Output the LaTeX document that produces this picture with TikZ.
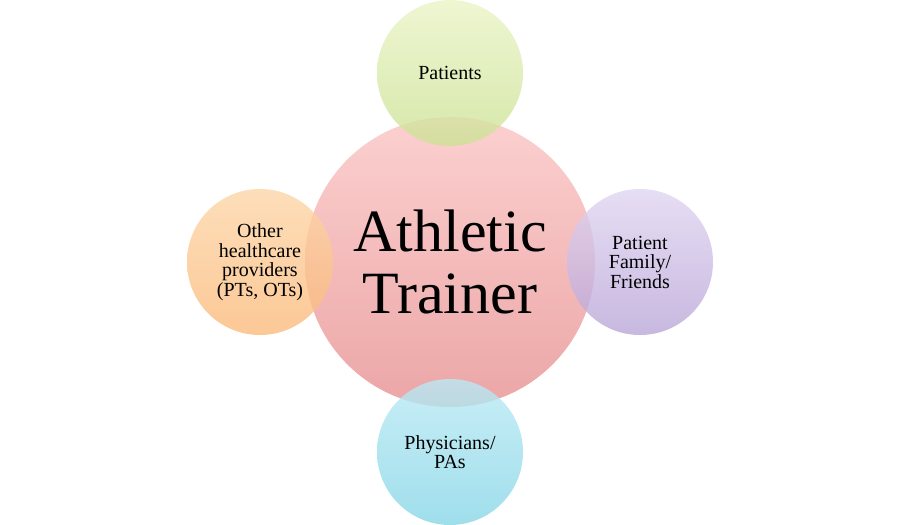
\documentclass[tikz,border=0pt]{standalone}
\usepackage{fontspec}
\setmainfont{Liberation Serif}
\definecolor{ctop}{RGB}{251,196,196}
\definecolor{cbot}{RGB}{231,144,144}
\definecolor{gtop}{RGB}{234,244,199}
\definecolor{gbot}{RGB}{204,226,149}
\definecolor{ltop}{RGB}{224,214,241}
\definecolor{lbot}{RGB}{186,166,216}
\definecolor{btop}{RGB}{186,234,244}
\definecolor{bbot}{RGB}{136,214,231}
\definecolor{ptop}{RGB}{252,214,168}
\definecolor{pbot}{RGB}{251,186,124}
\tikzset{
  bubble/.style={circle, inner sep=0pt, minimum size=146pt, fill opacity=0.8, text opacity=1,
    align=center, font=\fontsize{20}{19.5}\selectfont},
  hub/.style={circle, inner sep=0pt, minimum size=290pt, fill opacity=0.8, text opacity=1,
    align=center, font=\fontsize{60}{62}\selectfont, top color=ctop, bottom color=cbot}
}
\begin{document}
\begin{tikzpicture}[x=1pt,y=-1pt]
\useasboundingbox (0,0) rectangle (900,525);
\node[hub] (at) at (450,262) {Athletic\\Trainer};
\node[bubble, top color=gtop, bottom color=gbot] (pat) at (450,73) {Patients};
\node[bubble, top color=ltop, bottom color=lbot] (fam) at (640,262) {Patient\\Family/\\Friends};
\node[bubble, top color=btop, bottom color=bbot] (phy) at (450,452) {Physicians/\\PAs};
\node[bubble, top color=ptop, bottom color=pbot] (oth) at (260,262) {Other\\healthcare\\providers\\(PTs, OTs)};
\end{tikzpicture}
\end{document}
